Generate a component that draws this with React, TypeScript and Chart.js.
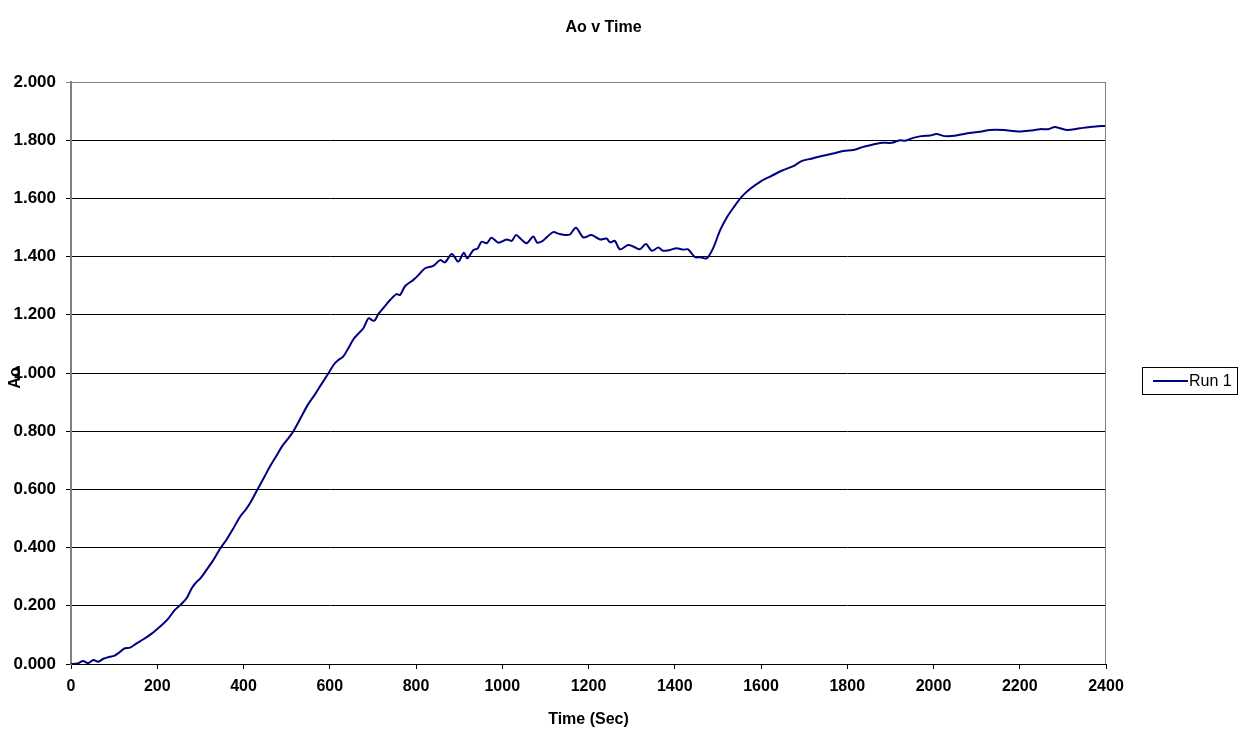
import React, { useEffect, useRef } from "react";
import { Chart, registerables } from "chart.js";

Chart.register(...registerables);

const TITLE = "Ao v Time";
const X_TITLE = "Time (Sec)";
const Y_TITLE = "Ao";
const SERIES_LABEL = "Run 1";

const times: number[] = [
  0, 15, 28, 40, 52, 63, 75, 90, 100, 112, 125, 137, 152, 168, 183, 202, 215, 226, 241, 255,
  268, 280, 290, 300, 315, 330, 346, 361, 376, 392, 405, 415, 434, 448, 461, 475, 489, 502, 515, 531,
  550, 565, 580, 597, 610, 620, 631, 643, 655, 668, 678, 690, 700, 705, 713, 727, 740, 755, 763, 775,
  794, 808, 821, 840, 856, 867, 883, 898, 911, 919, 933, 943, 952, 964, 975, 991, 1010, 1022, 1032, 1045,
  1057, 1072, 1081, 1092, 1103, 1118, 1132, 1146, 1157, 1171, 1188, 1207, 1227, 1242, 1250, 1261, 1273, 1292, 1305, 1319,
  1333, 1347, 1362, 1373, 1389, 1404, 1420, 1431, 1447, 1459, 1474, 1489, 1505, 1520, 1536, 1555, 1575, 1598, 1621, 1648,
  1675, 1694, 1721, 1741, 1767, 1791, 1814, 1837, 1860, 1880, 1903, 1922, 1934, 1953, 1972, 1992, 2007, 2026, 2049, 2076,
  2108, 2131, 2162, 2197, 2224, 2247, 2266, 2282, 2309, 2340, 2367, 2400,
];

const run1: number[] = [
  0.0, 0.002, 0.01, 0.003, 0.014, 0.008, 0.018, 0.025, 0.028, 0.04, 0.054, 0.056, 0.071, 0.085, 0.1, 0.123, 0.14, 0.157, 0.186, 0.205,
  0.226, 0.26, 0.28, 0.294, 0.325, 0.357, 0.397, 0.428, 0.465, 0.506, 0.53, 0.552, 0.604, 0.642, 0.678, 0.712, 0.747, 0.772, 0.798, 0.841,
  0.893, 0.925, 0.96, 0.999, 1.03, 1.045, 1.056, 1.085, 1.116, 1.138, 1.154, 1.188, 1.18, 1.182, 1.203, 1.228, 1.251, 1.271, 1.268, 1.299,
  1.32, 1.34, 1.36, 1.368, 1.388, 1.38, 1.409, 1.383, 1.413, 1.394, 1.423, 1.428, 1.451, 1.446, 1.465, 1.448, 1.459, 1.454, 1.474, 1.458,
  1.446, 1.469, 1.448, 1.452, 1.466, 1.484, 1.478, 1.474, 1.476, 1.499, 1.466, 1.474, 1.459, 1.462, 1.449, 1.454, 1.425, 1.44, 1.434, 1.425,
  1.443, 1.42, 1.431, 1.42, 1.423, 1.429, 1.424, 1.425, 1.398, 1.398, 1.394, 1.429, 1.49, 1.533, 1.568, 1.605, 1.633, 1.657, 1.675, 1.695,
  1.711, 1.728, 1.738, 1.746, 1.754, 1.763, 1.766, 1.777, 1.785, 1.791, 1.791, 1.8, 1.798, 1.808, 1.814, 1.816, 1.821, 1.814, 1.815, 1.823,
  1.829, 1.835, 1.835, 1.83, 1.833, 1.838, 1.838, 1.845, 1.835, 1.841, 1.846, 1.85,
];

const X_MIN = 0;
const X_MAX = 2400;
const X_STEP = 200;
const Y_MIN = 0;
const Y_MAX = 2;
const Y_STEP = 0.2;

const FONT = "'Liberation Sans', Arial, Helvetica, sans-serif";
const LINE_COLOR = "#000080";

export default function App() {
  const ref = useRef<HTMLCanvasElement | null>(null);

  useEffect(() => {
    document.body.style.margin = "0";
    const canvas = ref.current;
    if (!canvas) return;

    const decor = {
      id: "decor",
      afterDraw(chart: any) {
        const ctx = chart.ctx as CanvasRenderingContext2D;
        const { left, right, top, bottom } = chart.chartArea;
        ctx.save();
        // frame (top & right)
        ctx.strokeStyle = "#808080";
        ctx.lineWidth = 1;
        ctx.beginPath();
        ctx.moveTo(left, top + 0.5);
        ctx.lineTo(right - 0.5, top + 0.5);
        ctx.lineTo(right - 0.5, bottom);
        ctx.stroke();

        // title
        ctx.fillStyle = "#000";
        ctx.font = `bold 16px ${FONT}`;
        ctx.textAlign = "center";
        ctx.textBaseline = "middle";
        ctx.fillText(TITLE, (left + right) / 2 + 15, 28);

        // y title (overlapping tick label as in the reference)
        ctx.save();
        ctx.translate(left - 55, (top + bottom) / 2 + 5);
        ctx.rotate(-Math.PI / 2);
        ctx.fillText(Y_TITLE, 0, 0);
        ctx.restore();

        // legend
        const lx = right + 36;
        const ly = (top + bottom) / 2 - 6;
        ctx.fillStyle = "#fff";
        ctx.fillRect(lx, ly, 95, 27);
        ctx.strokeStyle = "#000";
        ctx.lineWidth = 1;
        ctx.strokeRect(lx + 0.5, ly + 0.5, 95, 27);
        ctx.strokeStyle = LINE_COLOR;
        ctx.lineWidth = 2;
        ctx.beginPath();
        ctx.moveTo(lx + 11, ly + 14);
        ctx.lineTo(lx + 46, ly + 14);
        ctx.stroke();
        ctx.fillStyle = "#000";
        ctx.font = `16px ${FONT}`;
        ctx.textAlign = "left";
        ctx.fillText(SERIES_LABEL, lx + 47, ly + 14.5);
        ctx.restore();
      },
    };

    const chart = new Chart(canvas, {
      type: "line",
      data: {
        datasets: [
          {
            label: SERIES_LABEL,
            data: times.map((t, i) => ({ x: t, y: run1[i] })),
            borderColor: LINE_COLOR,
            backgroundColor: LINE_COLOR,
            borderWidth: 2,
            pointRadius: 0,
            tension: 0.3,
            fill: false,
          },
        ],
      },
      options: {
        responsive: false,
        animation: false,
        devicePixelRatio: 1,
        layout: { padding: { left: 0, right: 141, top: 82, bottom: 0 } },
        plugins: {
          legend: { display: false },
          title: { display: false },
          tooltip: { enabled: false },
        },
        scales: {
          x: {
            type: "linear",
            min: X_MIN,
            max: X_MAX,
            afterFit: (s: any) => {
              s.height = 67;
            },
            ticks: {
              stepSize: X_STEP,
              color: "#000",
              font: { family: FONT, size: 16, weight: "bold" },
              padding: 8,
              maxRotation: 0,
              callback: (v: any) => String(v),
            },
            grid: {
              drawOnChartArea: false,
              drawTicks: true,
              tickLength: 5,
              color: "#000",
            },
            border: { color: "#000", width: 1 },
            title: {
              display: true,
              text: X_TITLE,
              color: "#000",
              font: { family: FONT, size: 16, weight: "bold" },
              padding: { top: 0, bottom: 2 },
            },
          },
          y: {
            type: "linear",
            min: Y_MIN,
            max: Y_MAX,
            afterFit: (s: any) => {
              s.width = 71;
            },
            ticks: {
              stepSize: Y_STEP,
              color: "#000",
              font: { family: FONT, size: 17, weight: "bold" },
              padding: 10,
              callback: (v: any) => Number(v).toFixed(3),
            },
            grid: {
              drawOnChartArea: true,
              drawTicks: true,
              tickLength: 5,
              color: (c: any) => (c.tick && c.tick.value === Y_MAX ? "#808080" : "#000"),
            },
            border: { color: "#808080", width: 2 },
          },
        },
      },
      plugins: [decor],
    });

    return () => chart.destroy();
  }, []);

  return <canvas ref={ref} width={1247} height={731} style={{ display: "block" }} />;
}
